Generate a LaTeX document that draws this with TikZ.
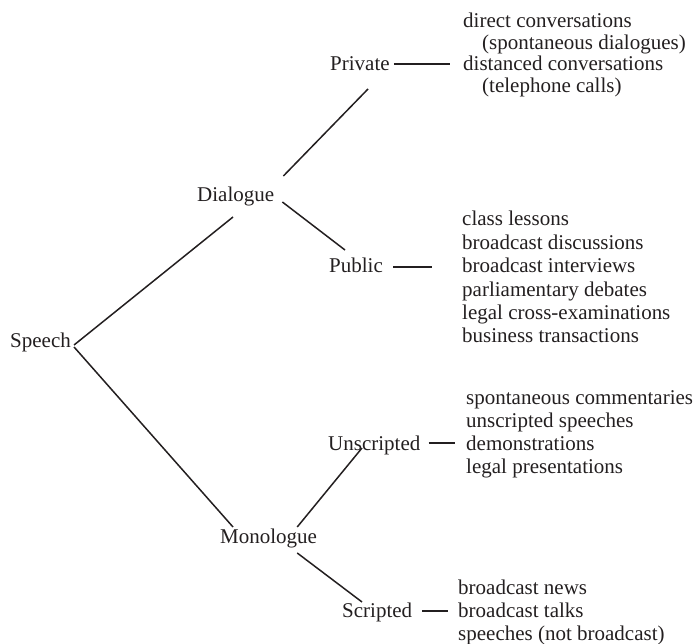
\documentclass[tikz,border=0pt]{standalone}
\usepackage{fontspec}
\setmainfont{Liberation Serif}
\usetikzlibrary{calc}
\definecolor{ink}{HTML}{231F20}
\tikzset{
  lbl/.style={anchor=base west, inner sep=0pt, font=\fontsize{21}{24}\selectfont, text=ink},
  conn/.style={line width=1.5pt, ink}
}
\begin{document}
\begin{tikzpicture}[x=1pt,y=-1pt]
\useasboundingbox (0,0) rectangle (699,644);
% category labels
\node[lbl] (speech) at (10,348) {Speech};
\node[lbl] (dialogue) at (197,202) {Dialogue};
\node[lbl] (monologue) at (220,543) {Monologue};
\node[lbl] (private) at (330,71) {Private};
\node[lbl] (public) at (329,273) {Public};
\node[lbl] (unscripted) at (328,450) {Unscripted};
\node[lbl] (scripted) at (342,617) {Scripted};
% private items
\node[lbl] (p1) at (463,28) {direct conversations};
\node[lbl] (p2) at (482,50) {(spontaneous dialogues)};
\node[lbl] (p3) at (463,71) {distanced conversations};
\node[lbl] (p4) at (482,93) {(telephone calls)};
% public items
\node[lbl] (q1) at (462,226) {class lessons};
\node[lbl] (q2) at (462,250) {broadcast discussions};
\node[lbl] (q3) at (462,273) {broadcast interviews};
\node[lbl] (q4) at (462,297) {parliamentary debates};
\node[lbl] (q5) at (462,320) {legal cross-examinations};
\node[lbl] (q6) at (462,343) {business transactions};
% unscripted items
\node[lbl] (u1) at (466,404) {spontaneous commentaries};
\node[lbl] (u2) at (466,427) {unscripted speeches};
\node[lbl] (u3) at (466,450) {demonstrations};
\node[lbl] (u4) at (466,473) {legal presentations};
% scripted items
\node[lbl] (s1) at (458,594) {broadcast news};
\node[lbl] (s2) at (458,617) {broadcast talks};
\node[lbl] (s3) at (458,640) {speeches (not broadcast)};
% connectors
\draw[conn] ($(speech.base east)+(3,-3)$) -- ($(dialogue.base west)+(36,15)$);
\draw[conn] ($(speech.base east)+(3,-1)$) -- ($(monologue.base west)+(13,-16)$);
\draw[conn] ($(dialogue.base east)+(9,-26)$) -- ($(private.base west)+(38,18)$);
\draw[conn] ($(dialogue.base east)+(8,0)$) -- ($(public.base west)+(16,-23)$);
\draw[conn] ($(monologue.base east)+(-20,-16)$) -- ($(unscripted.base west)+(34,-2)$);
\draw[conn] ($(monologue.base east)+(-20,10)$) -- ($(scripted.base west)+(20,-15)$);
\draw[conn] ($(private.base east)+(4,-7)$) -- ($(p3.base west)+(-13,-7)$);
\draw[conn] ($(public.base east)+(10,-6)$) -- ($(q3.base west)+(-30,-6)$);
\draw[conn] ($(unscripted.base east)+(8,-7)$) -- ($(u3.base west)+(-11,-7)$);
\draw[conn] ($(scripted.base east)+(10,-6)$) -- ($(s2.base west)+(-10,-6)$);
\end{tikzpicture}
\end{document}
